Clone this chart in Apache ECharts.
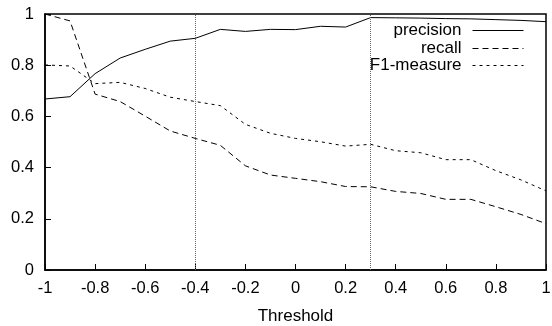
<!DOCTYPE html>
<html><head><meta charset="utf-8">
<script src="https://cdn.jsdelivr.net/npm/echarts@6/dist/echarts.min.js"></script>
<style>html,body{margin:0;padding:0;background:#fff}#c{width:552px;height:326px}</style>
</head><body><div id="c"></div>
<script>
var thresholds = [-1,-0.9,-0.8,-0.7,-0.6,-0.5,-0.4,-0.3,-0.2,-0.1,0,0.1,0.2,0.3,0.4,0.5,0.6,0.7,0.8,0.9,1];
var precision = [0.668,0.677,0.767,0.828,0.862,0.894,0.905,0.940,0.932,0.940,0.939,0.952,0.949,0.986,0.985,0.984,0.982,0.981,0.978,0.975,0.970];
var recall = [1.0,0.973,0.687,0.658,0.601,0.543,0.514,0.487,0.407,0.371,0.358,0.345,0.326,0.325,0.307,0.299,0.276,0.276,0.247,0.217,0.181];
var f1 = [0.801,0.797,0.728,0.733,0.709,0.675,0.658,0.642,0.569,0.534,0.514,0.501,0.484,0.491,0.466,0.458,0.431,0.431,0.388,0.352,0.309];
var markers = [-0.4, 0.3];
var xTicks = {min:-1, max:1, interval:0.2};
var yTicks = {min:0, max:1, interval:0.2};

function pairs(ys){ return thresholds.map(function(x,i){return [x, ys[i]];}); }
var font = 'Liberation Sans, Arial, sans-serif';
var chart = echarts.init(document.getElementById('c'), null, {renderer:'canvas'});
function legendAt(name, top){
  return {data:[name], right:28, top:top, bottom:'auto', left:'auto', orient:'vertical', align:'right', itemWidth:51, itemHeight:14, itemGap:0,
    itemStyle:{opacity:0}, lineStyle:{width:1},
    textStyle:{fontFamily:font, fontSize:17, color:'#000', padding:[0,6,0,0]}, selectedMode:false, padding:0};
}
chart.setOption({
  animation:false,
  grid:{left:45, right:6, top:14, bottom:56, show:true, borderColor:'#000', borderWidth:1.5, backgroundColor:'transparent', outerBoundsMode:'none', containLabel:false},
  legend:[legendAt('precision',22), legendAt('recall',40), legendAt('F1-measure',57)],
  xAxis:{type:'value', min:xTicks.min, max:xTicks.max, interval:xTicks.interval,
    name:'Threshold', nameLocation:'middle', nameGap:38,
    nameTextStyle:{fontFamily:font, fontSize:17, color:'#000'},
    axisLine:{onZero:false, lineStyle:{color:'#000', width:1.5}},
    axisTick:{inside:true, length:6, lineStyle:{color:'#000', width:1}},
    axisLabel:{fontFamily:font, fontSize:16.5, color:'#000', margin:10},
    splitLine:{show:false}},
  yAxis:{type:'value', min:yTicks.min, max:yTicks.max, interval:yTicks.interval,
    axisLine:{show:true, onZero:false, lineStyle:{color:'#000', width:1.5}},
    axisTick:{show:true, inside:true, length:6, lineStyle:{color:'#000', width:1}},
    axisLabel:{fontFamily:font, fontSize:16.5, color:'#000', margin:11},
    splitLine:{show:false}},
  series:[
    {name:'precision', type:'line', data:pairs(precision), symbol:'none', lineStyle:{color:'#000', width:1, type:'solid'}, itemStyle:{color:'#000'},
     markLine:{silent:true, symbol:['none','none'], label:{show:false}, lineStyle:{color:'#666', width:1, type:[1,1]},
       data:markers.map(function(v){return {xAxis:v};})}},
    {name:'recall', type:'line', data:pairs(recall), symbol:'none', lineStyle:{color:'#000', width:1, type:[6,4]}, itemStyle:{color:'#000'}},
    {name:'F1-measure', type:'line', data:pairs(f1), symbol:'none', lineStyle:{color:'#000', width:1, type:[3,4]}, itemStyle:{color:'#000'}}
  ]
});
</script></body></html>
